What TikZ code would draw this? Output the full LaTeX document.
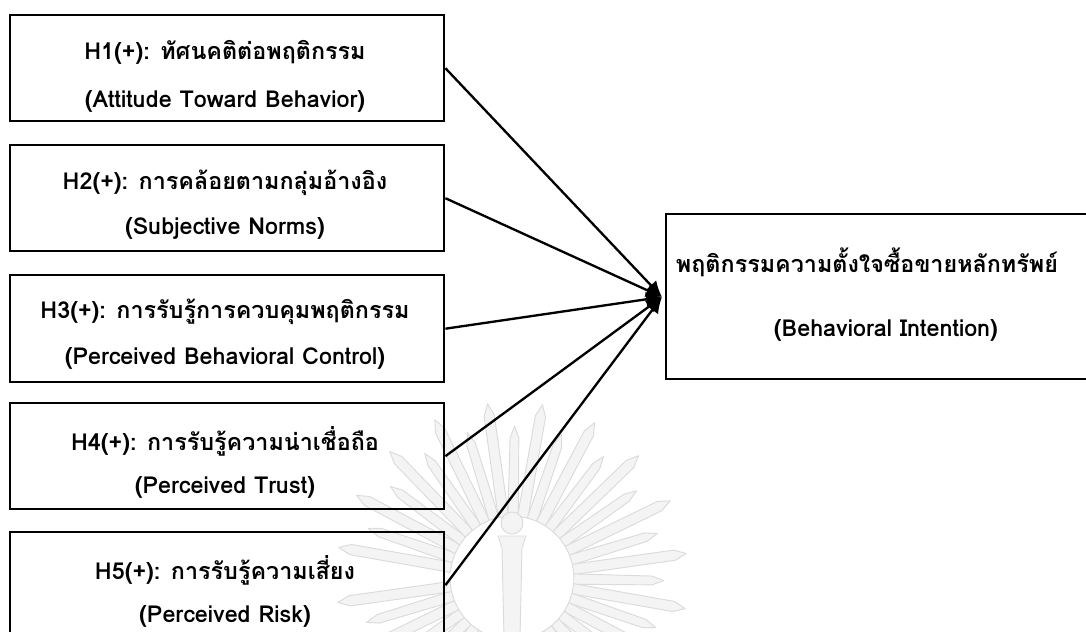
\documentclass[tikz,border=0pt]{standalone}
\usepackage{fontspec}
\setmainfont[Script=Thai]{Loma}
\usetikzlibrary{arrows.meta}
\begin{document}
\begin{tikzpicture}[x=0.75pt,y=-0.75pt,
  hbox/.style={draw=black,line width=1.8pt},
  lbl/.style={font=\bfseries\fontsize{17.5}{20}\selectfont,inner sep=0pt,anchor=center},
  ray/.style={fill=gray!9,draw=gray!28,line width=0.7pt,line join=round},
  link/.style={line width=1.75pt,-{Latex[length=12pt,width=11pt]}}]
\useasboundingbox (0,0) rectangle (1086,632);
\fill[white] (0,0) rectangle (1086,632);
% faint emblem in the background: sunburst around a pole with a ball on top
\begin{scope}[shift={(512,578)}]
  \foreach \a [count=\i] in {-170,-161,...,180} {
    \pgfmathsetmacro{\ro}{mod(\i,2)==0 ? 152 : 176}
    \pgfmathsetmacro{\skip}{(\a>65 && \a<115) ? 1 : 0}
    \ifnum\skip=0
      \draw[ray] (\a-4.8:62) -- (\a-1.8:\ro-12) -- (\a:\ro) -- (\a+1.8:\ro-12) -- (\a+4.8:62) -- cycle;
    \fi
  }
  \draw[ray] (0,-55) circle (11);
  \draw[ray] (-14,-42) -- (14,-42) -- (10,-30) -- (8,60) -- (-8,60) -- (-10,-30) -- cycle;
\end{scope}
% factor boxes on the left
\node[hbox,minimum width=434*0.75pt,minimum height=106*0.75pt,anchor=north west] (b1) at (9,14) {};
\node[hbox,minimum width=434*0.75pt,minimum height=106*0.75pt,anchor=north west] (b2) at (9,144) {};
\node[hbox,minimum width=434*0.75pt,minimum height=107*0.75pt,anchor=north west] (b3) at (9,274) {};
\node[hbox,minimum width=434*0.75pt,minimum height=106*0.75pt,anchor=north west] (b4) at (9,402) {};
\node[hbox,minimum width=434*0.75pt,minimum height=106*0.75pt,anchor=north west] (b5) at (9,531) {};
% outcome box
\node[hbox,fill=white,minimum width=440*0.75pt,minimum height=165*0.75pt,anchor=north west] (bi) at (665,213) {};
% labels
\node[lbl] (t1a) at (225,52) {H1(+): ทัศนคติต่อพฤติกรรม};
\node[lbl] (t1b) at (225,101) {(Attitude Toward Behavior)};
\node[lbl] (t2a) at (225,183) {H2(+): การคล้อยตามกลุ่มอ้างอิง};
\node[lbl] (t2b) at (225,228) {(Subjective Norms)};
\node[lbl] (t3a) at (225,312) {H3(+): การรับรู้การควบคุมพฤติกรรม};
\node[lbl] (t3b) at (225,358) {(Perceived Behavioral Control)};
\node[lbl] (t4a) at (225,441) {H4(+): การรับรู้ความน่าเชื่อถือ};
\node[lbl] (t4b) at (225,487) {(Perceived Trust)};
\node[lbl] (t5a) at (225,570) {H5(+): การรับรู้ความเสี่ยง};
\node[lbl] (t5b) at (225,616) {(Perceived Risk)};
\node[lbl] (tia) at (867,262) {พฤติกรรมความตั้งใจซื้อขายหลักทรัพย์};
\node[lbl] (tib) at (886,330) {(Behavioral Intention)};
% connectors
\coordinate (tip) at (662,297);
\foreach \b in {b1,b2,b3,b4,b5} \draw[link] (\b.east) -- (tip);
\end{tikzpicture}
\end{document}
